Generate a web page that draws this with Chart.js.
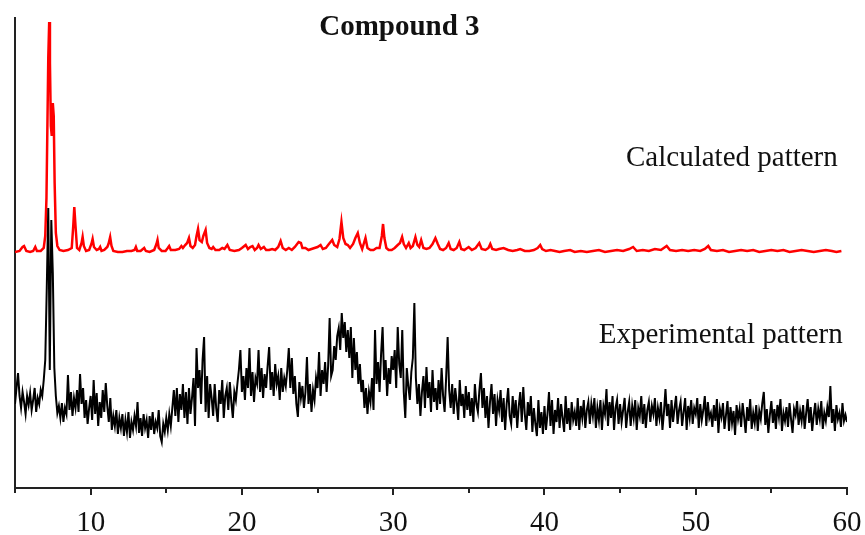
<!DOCTYPE html>
<html lang="en">
<head>
<meta charset="UTF-8">
<title>Compound 3</title>
<script src="https://cdn.jsdelivr.net/npm/chart.js"></script>
<style>
  html, body { margin: 0; padding: 0; background: #fff; }
</style>
</head>
<body>
<canvas id="xrdChart" width="865" height="535"></canvas>
<script>
// 2-theta axis
const xMin = 5, xMax = 60;
const majorTicks = [10, 20, 30, 40, 50, 60];
const minorTicks = [5, 15, 25, 35, 45, 55];

// calculated pattern (offset upward)
const calcX = [5.0,5.3,5.5,5.6,5.75,6.0,6.2,6.34,6.45,6.7,6.9,7.0,7.08,7.14,7.2,7.26,7.31,7.37,7.43,7.5,7.56,7.62,7.7,7.8,7.95,
  8.2,8.5,8.75,8.85,8.92,9.0,9.1,9.25,9.4,9.47,9.55,9.7,9.9,10.05,10.13,10.22,10.4,10.55,10.63,10.72,10.9,
  11.1,11.18,11.29,11.38,11.5,11.8,12.1,12.4,12.7,12.9,12.99,13.08,13.3,13.54,13.65,13.9,14.2,14.35,14.42,14.5,
  14.7,14.95,15.1,15.19,15.3,15.6,15.85,16.0,16.1,16.25,16.38,16.5,16.6,16.75,16.9,17.0,17.1,17.2,17.35,17.45,
  17.6,17.7,17.85,18.0,18.1,18.25,18.5,18.7,18.85,19.04,19.2,19.5,19.8,20.0,20.25,20.4,20.55,20.7,20.85,21.0,
  21.1,21.25,21.45,21.6,21.8,22.0,22.2,22.4,22.56,22.7,22.9,23.1,23.3,23.5,23.75,23.9,24.0,24.2,24.4,24.6,24.8,
  25.0,25.2,25.35,25.55,25.75,25.97,26.1,26.3,26.45,26.58,26.7,26.85,27.0,27.15,27.35,27.5,27.66,27.8,27.95,
  28.05,28.17,28.3,28.5,28.7,28.9,29.1,29.25,29.33,29.42,29.55,29.7,29.9,30.1,30.3,30.45,30.59,30.7,30.85,
  31.03,31.15,31.3,31.47,31.6,31.72,31.85,32.0,32.2,32.4,32.6,32.79,32.95,33.1,33.3,33.5,33.67,33.8,34.0,34.2,
  34.37,34.5,34.7,34.99,35.2,35.45,35.69,35.85,36.1,36.3,36.42,36.55,36.8,37.0,37.3,37.6,37.9,38.2,38.4,38.7,
  39.0,39.3,39.55,39.72,39.85,40.1,40.4,40.7,41.0,41.3,41.7,42.0,42.4,42.8,43.2,43.6,44.0,44.4,44.8,45.2,45.6,
  45.86,46.1,46.5,46.9,47.3,47.7,48.08,48.3,48.7,49.1,49.5,49.9,50.3,50.6,50.83,51.0,51.4,51.8,52.2,52.6,53.0,
  53.4,53.8,54.2,54.6,55.0,55.4,55.8,56.2,56.6,57.0,57.4,57.8,58.2,58.6,59.0,59.3,59.63];
const calcY = [236,237,241,242,237,236,237,241,237,237,240,252,290,360,430,466,425,362,352,385,372,305,255,242,238,
  237,238,240,262,281,262,240,238,245,251,242,237,238,244,249,241,238,239,241,237,238,
  241,244,251,242,237,236,236,237,237,238,241,237,237,240,237,236,238,244,248,240,
  237,237,240,242,238,238,239,242,240,243,245,250,242,240,243,252,259,248,246,252,
  258,245,240,239,241,238,238,240,239,243,238,237,238,240,243,239,241,242,238,240,
  243,239,241,238,238,239,238,241,247,240,238,240,238,241,246,245,240,240,238,239,240,
  241,243,239,240,244,248,243,241,249,266,250,244,243,240,244,250,255,245,239,
  244,250,240,238,238,240,240,252,264,250,240,238,238,240,243,245,251,244,240,
  245,240,242,251,243,241,248,240,239,240,244,250,244,239,238,240,245,239,238,240,
  246,239,238,241,238,240,245,239,238,240,244,239,238,239,240,238,237,238,239,237,
  237,238,240,243,239,237,238,237,236,237,238,236,237,236,237,238,236,237,238,237,239,
  241,237,238,237,239,238,242,238,237,238,237,238,237,239,242,238,237,238,236,237,238,
  237,238,236,237,238,237,238,236,237,238,237,236,237,238,237,236,237];

// experimental pattern, sampled every 0.1 deg from 5 to 60
const expStart = 5, expStep = 0.1;
const expY = [
  84,100,115,92,80,96,86,74,92,83,
  95,78,88,100,76,90,84,98,92,108,
  128,200,280,118,268,215,120,92,75,82,
  70,85,66,80,74,113,78,96,72,90,
  80,98,76,114,84,100,70,88,64,80,
  92,68,108,74,95,62,86,70,98,76,
  105,82,66,90,58,72,62,78,54,70,
  60,74,52,68,56,76,50,66,58,72,
  62,86,55,70,52,74,60,68,50,72,
  58,76,54,66,60,78,52,46,64,56,
  70,58,74,62,80,98,72,100,66,94,
  78,104,70,96,64,100,74,90,110,62,
  140,100,118,84,128,151,76,112,70,104,
  90,72,104,80,66,98,84,108,70,92,
  100,78,106,86,70,96,88,104,118,138,
  96,112,88,120,100,140,92,116,86,110,
  104,138,96,120,90,114,100,122,141,98,
  116,92,124,104,112,88,120,96,110,102,
  118,140,100,130,94,112,84,71,106,90,
  102,80,96,131,84,104,76,98,88,110,
  100,136,92,118,104,126,96,122,170,112,
  118,142,128,152,160,138,175,150,166,136,
  158,130,161,110,150,118,136,104,124,96,
  108,80,100,74,96,86,110,78,158,104,
  126,96,134,161,108,128,92,120,104,132,
  118,138,100,161,124,110,158,96,70,120,
  102,88,116,130,185,110,84,104,72,96,
  112,80,121,90,106,76,118,86,100,78,
  108,84,120,92,76,110,151,98,80,104,
  74,100,86,68,108,82,94,70,102,78,
  96,72,90,66,104,84,76,98,115,80,
  100,70,92,60,86,104,74,94,62,88,
  78,98,66,90,58,84,100,72,64,92,
  70,88,60,82,96,66,101,74,58,86,
  72,92,56,80,64,52,88,60,76,54,
  82,58,74,96,62,88,54,78,66,90,
  60,84,70,56,92,64,80,58,86,68,
  76,62,90,58,82,70,88,60,78,86,
  64,84,72,90,60,80,68,88,58,82,
  74,99,62,86,70,92,58,80,88,64,
  84,66,78,90,60,76,86,62,82,70,
  88,58,80,72,92,64,84,60,78,86,
  66,82,74,90,62,80,70,86,58,76,
  99,72,84,60,88,66,80,92,64,78,
  86,62,76,90,58,82,70,88,64,80,
  74,90,60,84,68,78,92,62,86,70,
  75,61,83,67,89,55,79,71,85,59,
  73,87,57,81,65,77,53,83,69,79,
  61,85,71,55,81,67,89,59,75,65,
  83,57,77,69,85,96,63,79,55,73,
  87,65,79,59,83,71,89,57,75,67,
  81,61,85,69,55,79,73,87,63,77,
  67,83,59,75,89,65,81,57,73,85,
  63,79,69,87,59,75,67,81,71,102,
  65,79,57,83,69,75,61,85,67,73,
  66
];

// text placed in data coordinates
const notes = [
  { text: 'Compound 3', x: 30.41, y: 453, align: 'center', bold: true },
  { text: 'Calculated pattern', x: 59.39, y: 322, align: 'right', bold: false },
  { text: 'Experimental pattern', x: 59.72, y: 145, align: 'right', bold: false }
];

const serif = '"Liberation Serif", "Times New Roman", serif';
const axisColor = '#222';

const calcData = calcX.map((x, i) => ({ x: x, y: calcY[i] }));
const expData = expY.map((y, i) => ({ x: +(expStart + i * expStep).toFixed(2), y: y }));

const overlay = {
  id: 'overlay',
  afterDraw(chart) {
    const { ctx, chartArea } = chart;
    const xs = chart.scales.x, ys = chart.scales.y;
    ctx.save();
    // short minor ticks
    ctx.strokeStyle = axisColor;
    ctx.lineWidth = 2;
    minorTicks.forEach(v => {
      const px = Math.round(xs.getPixelForValue(v));
      ctx.beginPath();
      ctx.moveTo(px, chartArea.bottom);
      ctx.lineTo(px, chartArea.bottom + 5);
      ctx.stroke();
    });
    ctx.fillStyle = '#111';
    ctx.textBaseline = 'alphabetic';
    notes.forEach(n => {
      ctx.font = (n.bold ? 'bold ' : '') + '29px ' + serif;
      ctx.textAlign = n.align;
      ctx.fillText(n.text, xs.getPixelForValue(n.x), ys.getPixelForValue(n.y));
    });
    ctx.restore();
  }
};

new Chart('xrdChart', {
  type: 'line',
  data: {
    datasets: [{
      label: 'Experimental pattern',
      data: expData,
      borderColor: '#000',
      borderWidth: 2,
      pointRadius: 0,
      tension: 0
    }, {
      label: 'Calculated pattern',
      data: calcData,
      borderColor: '#ff0000',
      borderWidth: 2.5,
      pointRadius: 0,
      tension: 0
    }]
  },
  options: {
    responsive: false,
    animation: false,
    layout: { padding: { left: 15, right: 18, top: 18, bottom: 0 } },
    plugins: {
      legend: { display: false },
      tooltip: { enabled: false }
    },
    scales: {
      x: {
        type: 'linear',
        min: xMin,
        max: xMax,
        afterFit: s => {
          s.height = 47;
          s.paddingLeft = 0;
          s.paddingRight = 0;
        },
        afterBuildTicks: s => { s.ticks = majorTicks.map(v => ({ value: v })); },
        ticks: {
          color: '#111',
          font: { family: serif, size: 29 },
          padding: 11,
          maxRotation: 0,
          autoSkip: false
        },
        grid: {
          drawOnChartArea: false,
          tickLength: 7,
          lineWidth: 2,
          color: axisColor
        },
        border: { color: axisColor, width: 2 }
      },
      y: {
        min: 0,
        max: 470,
        afterFit: s => { s.width = 0; },
        ticks: { display: false },
        grid: { display: false },
        border: { color: axisColor, width: 2 }
      }
    }
  },
  plugins: [overlay]
});
</script>
</body>
</html>
